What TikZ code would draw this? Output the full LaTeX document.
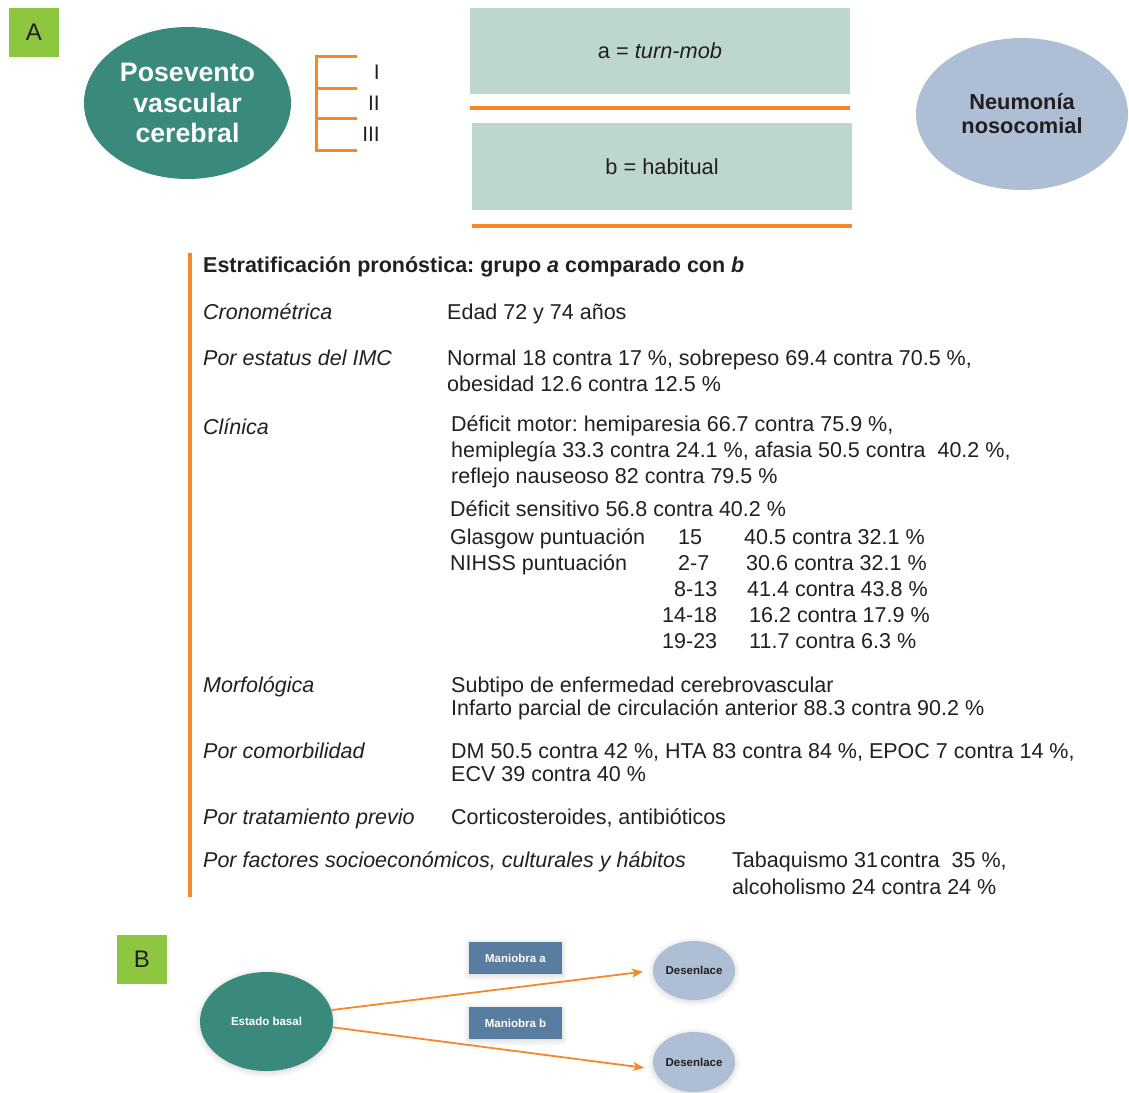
\documentclass[tikz,border=0pt]{standalone}
\usepackage{fontspec}
\setmainfont{Liberation Sans}
\usetikzlibrary{shapes.geometric,arrows.meta,shadows.blur}
\definecolor{tealc}{RGB}{57,138,125}
\definecolor{lteal}{RGB}{189,215,208}
\definecolor{lblue}{RGB}{174,191,213}
\definecolor{steel}{RGB}{88,125,160}
\definecolor{orng}{RGB}{247,136,42}
\definecolor{lgreen}{RGB}{141,198,63}
\definecolor{tgray}{RGB}{35,31,32}
\newcommand\bodyf{\fontsize{21.5}{26}\selectfont}
\frenchspacing
\begin{document}
\begin{tikzpicture}[x=1pt,y=-1pt,
  txt/.style={anchor=base west,inner sep=0pt,font=\bodyf,text=tgray},
  itxt/.style={txt,font=\bodyf\itshape},
  letterbox/.style={fill=lgreen,minimum width=50pt,minimum height=49pt,inner sep=0pt,text=tgray,font=\fontsize{24}{28}\selectfont},
  grpbox/.style={fill=lteal,minimum width=380pt,minimum height=86pt,inner sep=0pt,text=tgray,font=\fontsize{21.8}{26}\selectfont},
  oline/.style={draw=orng,line width=4pt},
  bline/.style={draw=orng,line width=3pt},
  softshadow/.style={blur shadow={shadow xshift=0pt,shadow yshift=-1.5pt,shadow blur radius=6pt,shadow blur steps=8,shadow opacity=18}},
  smallf/.style={font=\fontsize{11.5}{13}\selectfont\bfseries},
  arr/.style={draw=orng,line width=1.8pt,-{Stealth[length=11pt,width=9pt,inset=3pt]},shorten >=10pt}
]
\useasboundingbox (0,0) rectangle (1129,1092);
% ---------- Part A ----------
\node[letterbox] (lA) at (34,32.5) {A};
\node[ellipse,fill=tealc,minimum width=207pt,minimum height=152pt,inner sep=0pt,align=center,text=white,font=\fontsize{26.7}{30.5}\selectfont\bfseries] (pos) at (187.5,103) {Posevento\\vascular\\cerebral};
\draw[bline] (357,56) -- (316,56) -- (316,150) -- (357,150);
\draw[bline] (316,88) -- (357,88);
\draw[bline] (316,118) -- (357,118);
\node[anchor=east,inner sep=0pt,font=\fontsize{21}{24}\selectfont,text=tgray] (g1) at (380,72) {I};
\node[anchor=east,inner sep=0pt,font=\fontsize{21}{24}\selectfont,text=tgray] (g2) at (380,103) {II};
\node[anchor=east,inner sep=0pt,font=\fontsize{21}{24}\selectfont,text=tgray] (g3) at (380,134) {III};
\node[grpbox] (ba) at (660,51) {a = \textit{turn-mob}};
\draw[oline] (470,108) -- (850,108);
\node[grpbox,minimum height=87pt] (bb) at (662,166.5) {b = habitual};
\draw[oline] (472,226) -- (852,226);
\node[ellipse,fill=lblue,minimum width=212pt,minimum height=152pt,inner sep=0pt,align=center,text=tgray,font=\fontsize{21.8}{24}\selectfont\bfseries] (neu) at (1022,114) {Neumonía\\nosocomial};
% vertical bar
\draw[bline,line width=3.5pt] (190,253) -- (190,897);
% table
\node[txt,font=\bodyf\bfseries] (t0) at (203,272) {Estratificación pronóstica: grupo \textit{a} comparado con \textit{b}};
\node[itxt] (l1) at (203,319) {Cronométrica};
\node[txt] (v1) at (447,319) {Edad 72 y 74 años};
\node[itxt] (l2) at (203,365) {Por estatus del IMC};
\node[txt] (v2a) at (447,365) {Normal 18 contra 17 \%, sobrepeso 69.4 contra 70.5 \%,};
\node[txt] (v2b) at (447,391) {obesidad 12.6 contra 12.5 \%};
\node[itxt] (l3) at (203,434) {Clínica};
\node[txt] (v3a) at (451,431) {Déficit motor: hemiparesia 66.7 contra 75.9 \%,};
\node[txt] (v3b) at (451,457) {hemiplegía 33.3 contra 24.1 \%, afasia 50.5 contra~~40.2 \%,};
\node[txt] (v3c) at (451,483) {reflejo nauseoso 82 contra 79.5 \%};
\node[txt] (v3d) at (450,516) {Déficit sensitivo 56.8 contra 40.2 \%};
\node[txt] (v3e) at (450,544) {Glasgow puntuación};
\node[txt] (v3f) at (450,570) {NIHSS puntuación};
\node[txt] (r1) at (678,544) {15};
\node[txt] (r2) at (678,570) {2-7};
\node[txt] (r3) at (674,596) {8-13};
\node[txt] (r4) at (662,622) {14-18};
\node[txt] (r5) at (662,648) {19-23};
\node[txt] (p1) at (744,544) {40.5 contra 32.1 \%};
\node[txt] (p2) at (746,570) {30.6 contra 32.1 \%};
\node[txt] (p3) at (747,596) {41.4 contra 43.8 \%};
\node[txt] (p4) at (749,622) {16.2 contra 17.9 \%};
\node[txt] (p5) at (749,648) {11.7 contra 6.3 \%};
\node[itxt] (l4) at (203,692) {Morfológica};
\node[txt] (v4a) at (451,692) {Subtipo de enfermedad cerebrovascular};
\node[txt] (v4b) at (451,715) {Infarto parcial de circulación anterior 88.3 contra 90.2 \%};
\node[itxt] (l5) at (203,758) {Por comorbilidad};
\node[txt] (v5a) at (451,758) {DM 50.5 contra 42 \%, HTA 83 contra 84 \%, EPOC 7 contra 14 \%,};
\node[txt] (v5b) at (451,781) {ECV 39 contra 40 \%};
\node[itxt] (l6) at (203,824) {Por tratamiento previo};
\node[txt] (v6) at (451,824) {Corticosteroides, antibióticos};
\node[itxt] (l7) at (203,867) {Por factores socioeconómicos, culturales y hábitos};
\node[txt] (v7a) at (732,867) {Tabaquismo 31\hspace{2pt}contra~~35 \%,};
\node[txt] (v7b) at (732,894) {alcoholismo 24 contra 24 \%};
% ---------- Part B ----------
\node[letterbox] (lB) at (142,959.5) {B};
\node[ellipse,fill=tealc,softshadow,minimum width=133pt,minimum height=99pt,inner sep=0pt,text=white,smallf] (eb) at (266.5,1021.5) {Estado basal};
\node[fill=steel,softshadow,minimum width=93pt,minimum height=32pt,inner sep=0pt,text=white,smallf] (ma) at (515.5,958) {Maniobra a};
\node[fill=steel,softshadow,minimum width=93pt,minimum height=32pt,inner sep=0pt,text=white,smallf] (mb) at (515.5,1023) {Maniobra b};
\node[ellipse,fill=lblue,softshadow,minimum width=82pt,minimum height=59pt,inner sep=0pt,text=tgray,smallf] (d1) at (694,970.5) {Desenlace};
\node[ellipse,fill=lblue,softshadow,minimum width=82pt,minimum height=60pt,inner sep=0pt,text=tgray,smallf] (d2) at (694,1062) {Desenlace};
\draw[arr] (eb.10) -- (d1.west);
\draw[arr] (eb.-5) -- (d2.190);
\end{tikzpicture}
\end{document}
